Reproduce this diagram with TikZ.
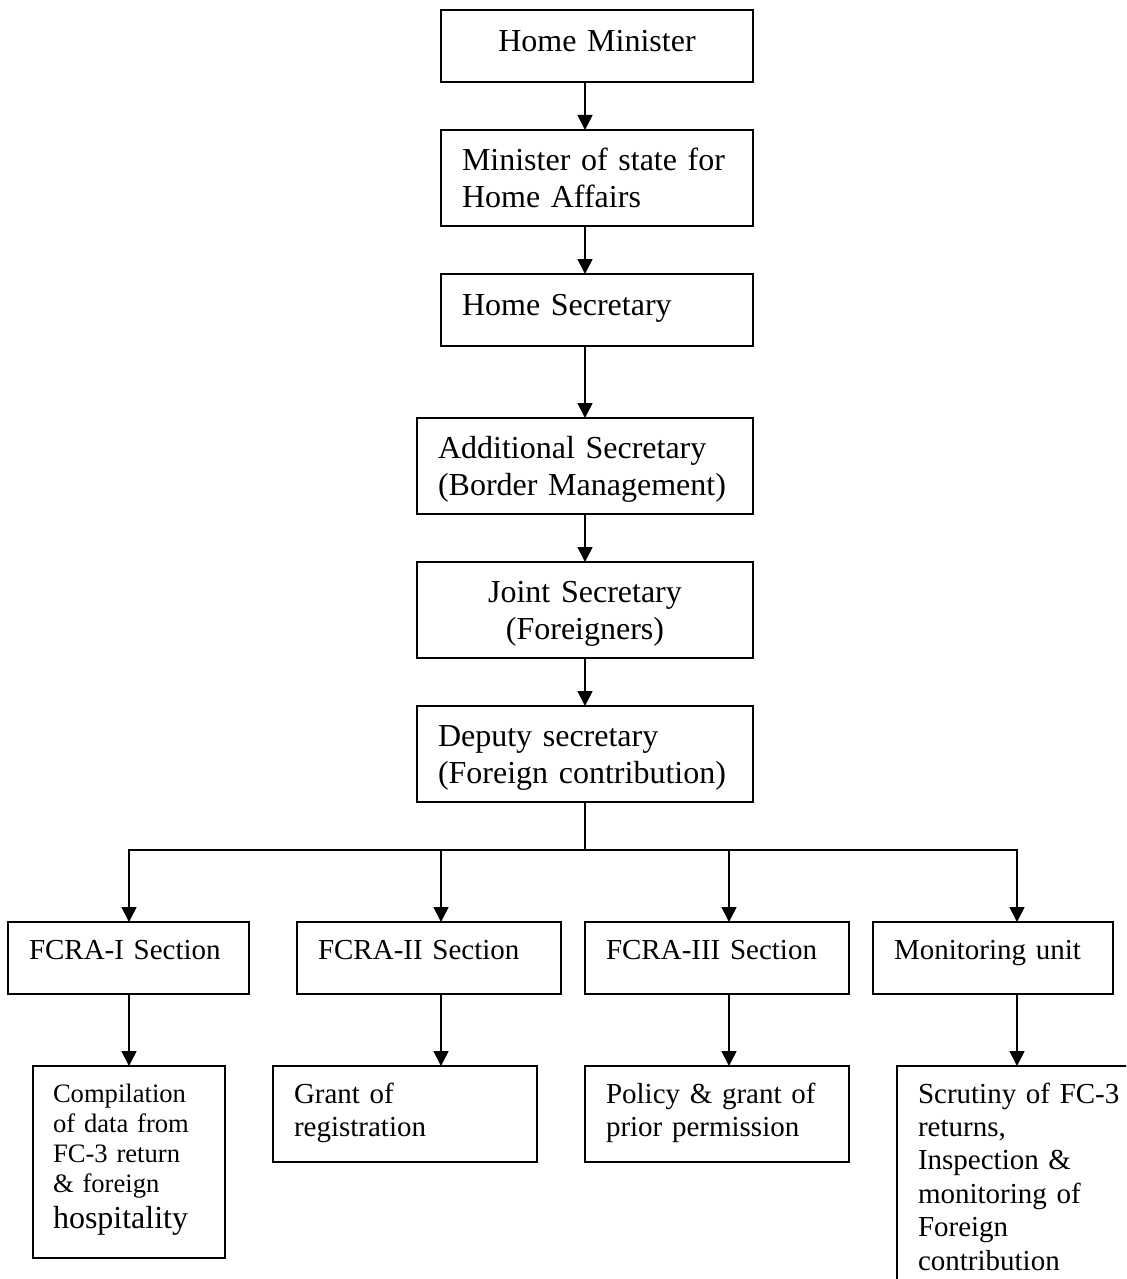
\documentclass[tikz,border=0pt]{standalone}
\usepackage{fontspec}
\setmainfont{Liberation Serif}
\usetikzlibrary{arrows.meta}
\tikzset{
  unit/.style={draw,line width=0.8pt,inner xsep=10.5pt,inner ysep=0pt,outer sep=0pt,anchor=north west,align=left},
  big/.style={font=\fontsize{16}{18.5}\selectfont},
  small/.style={font=\fontsize{14.5}{16.7}\selectfont},
  tiny/.style={font=\fontsize{13.3}{15}\selectfont},
  arr/.style={line width=0.8pt,-{Triangle[width=7.5pt,length=7.5pt]}}
}
\begin{document}
\begin{tikzpicture}[x=0.5pt,y=-0.5pt]
        \useasboundingbox (0,0) rectangle (1126,1279);
        \clip (0,0) rectangle (1126,1279);
        \node[unit,big,align=center,text width=135pt,text height=21pt,text depth=15pt](hm) at(441,10){Home Minister};
        \node[unit,big,text width=135pt,text height=20pt,text depth=28pt](ms) at(441,130){Minister of state for\\Home Affairs};
        \node[unit,big,text width=135pt,text height=20.5pt,text depth=15.5pt](hs) at(441,274){Home Secretary};
        \node[unit,big,text width=147pt,text height=20pt,text depth=28pt](as) at(417,418){Additional Secretary\\(Border Management)};
        \node[unit,big,align=center,text width=147pt,text height=20pt,text depth=28pt](js) at(417,562){Joint Secretary\\(Foreigners)};
        \node[unit,big,text width=147pt,text height=20pt,text depth=28pt](ds) at(417,706){Deputy secretary\\(Foreign contribution)};
        \node[unit,small,text width=99.5pt,text height=18.5pt,text depth=17.5pt](f1) at(8,922){FCRA-I Section};
        \node[unit,small,text width=111pt,text height=18.5pt,text depth=17.5pt](f2) at(297,922){FCRA-II Section};
        \node[unit,small,text width=111pt,text height=18.5pt,text depth=17.5pt](f3) at(585,922){FCRA-III Section};
        \node[unit,small,text width=99pt,text height=18.5pt,text depth=17.5pt](mu) at(873,922){Monitoring unit};
        \node[unit,tiny,inner xsep=10pt,text width=76pt,text height=18pt,text depth=78pt](cp) at(33,1066){Compilation\\of data from\\FC-3 return\\\& foreign\\[3pt]{\fontsize{16}{18}\selectfont hospitality}};
        \node[unit,small,text width=111pt,text height=18.5pt,text depth=29.5pt](gr) at(273,1066){Grant of\\registration};
        \node[unit,small,text width=111pt,text height=18.5pt,text depth=29.5pt](pl) at(585,1066){Policy \& grant of\\prior permission};
        \node[unit,small,text width=111pt,text height=18.5pt,text depth=101.5pt](sc) at(897,1066){Scrutiny of FC-3\\returns,\\Inspection \&\\monitoring of\\Foreign\\contribution};
        \coordinate (jn) at(585,850);
        \coordinate (c1) at(129,850);
        \coordinate (c2) at(441,850);
        \coordinate (c3) at(729,850);
        \coordinate (c4) at(1017,850);
        \draw[arr](hm.south -| jn)--(ms.north -| jn);
        \draw[arr](ms.south -| jn)--(hs.north -| jn);
        \draw[arr](hs.south -| jn)--(as.north -| jn);
        \draw[arr](as.south -| jn)--(js.north -| jn);
        \draw[arr](js.south -| jn)--(ds.north -| jn);
        \draw[line width=0.8pt](ds.south -| jn)--(jn);
        \draw[line width=0.8pt,line cap=rect](c1)--(c4);
        \foreach \c/\u/\l in {c1/f1/cp,c2/f2/gr,c3/f3/pl,c4/mu/sc}{
          \draw[arr](\c)--(\c |- \u.north);
          \draw[arr](\c |- \u.south)--(\c |- \l.north);
        }
      \end{tikzpicture}
\end{document}
